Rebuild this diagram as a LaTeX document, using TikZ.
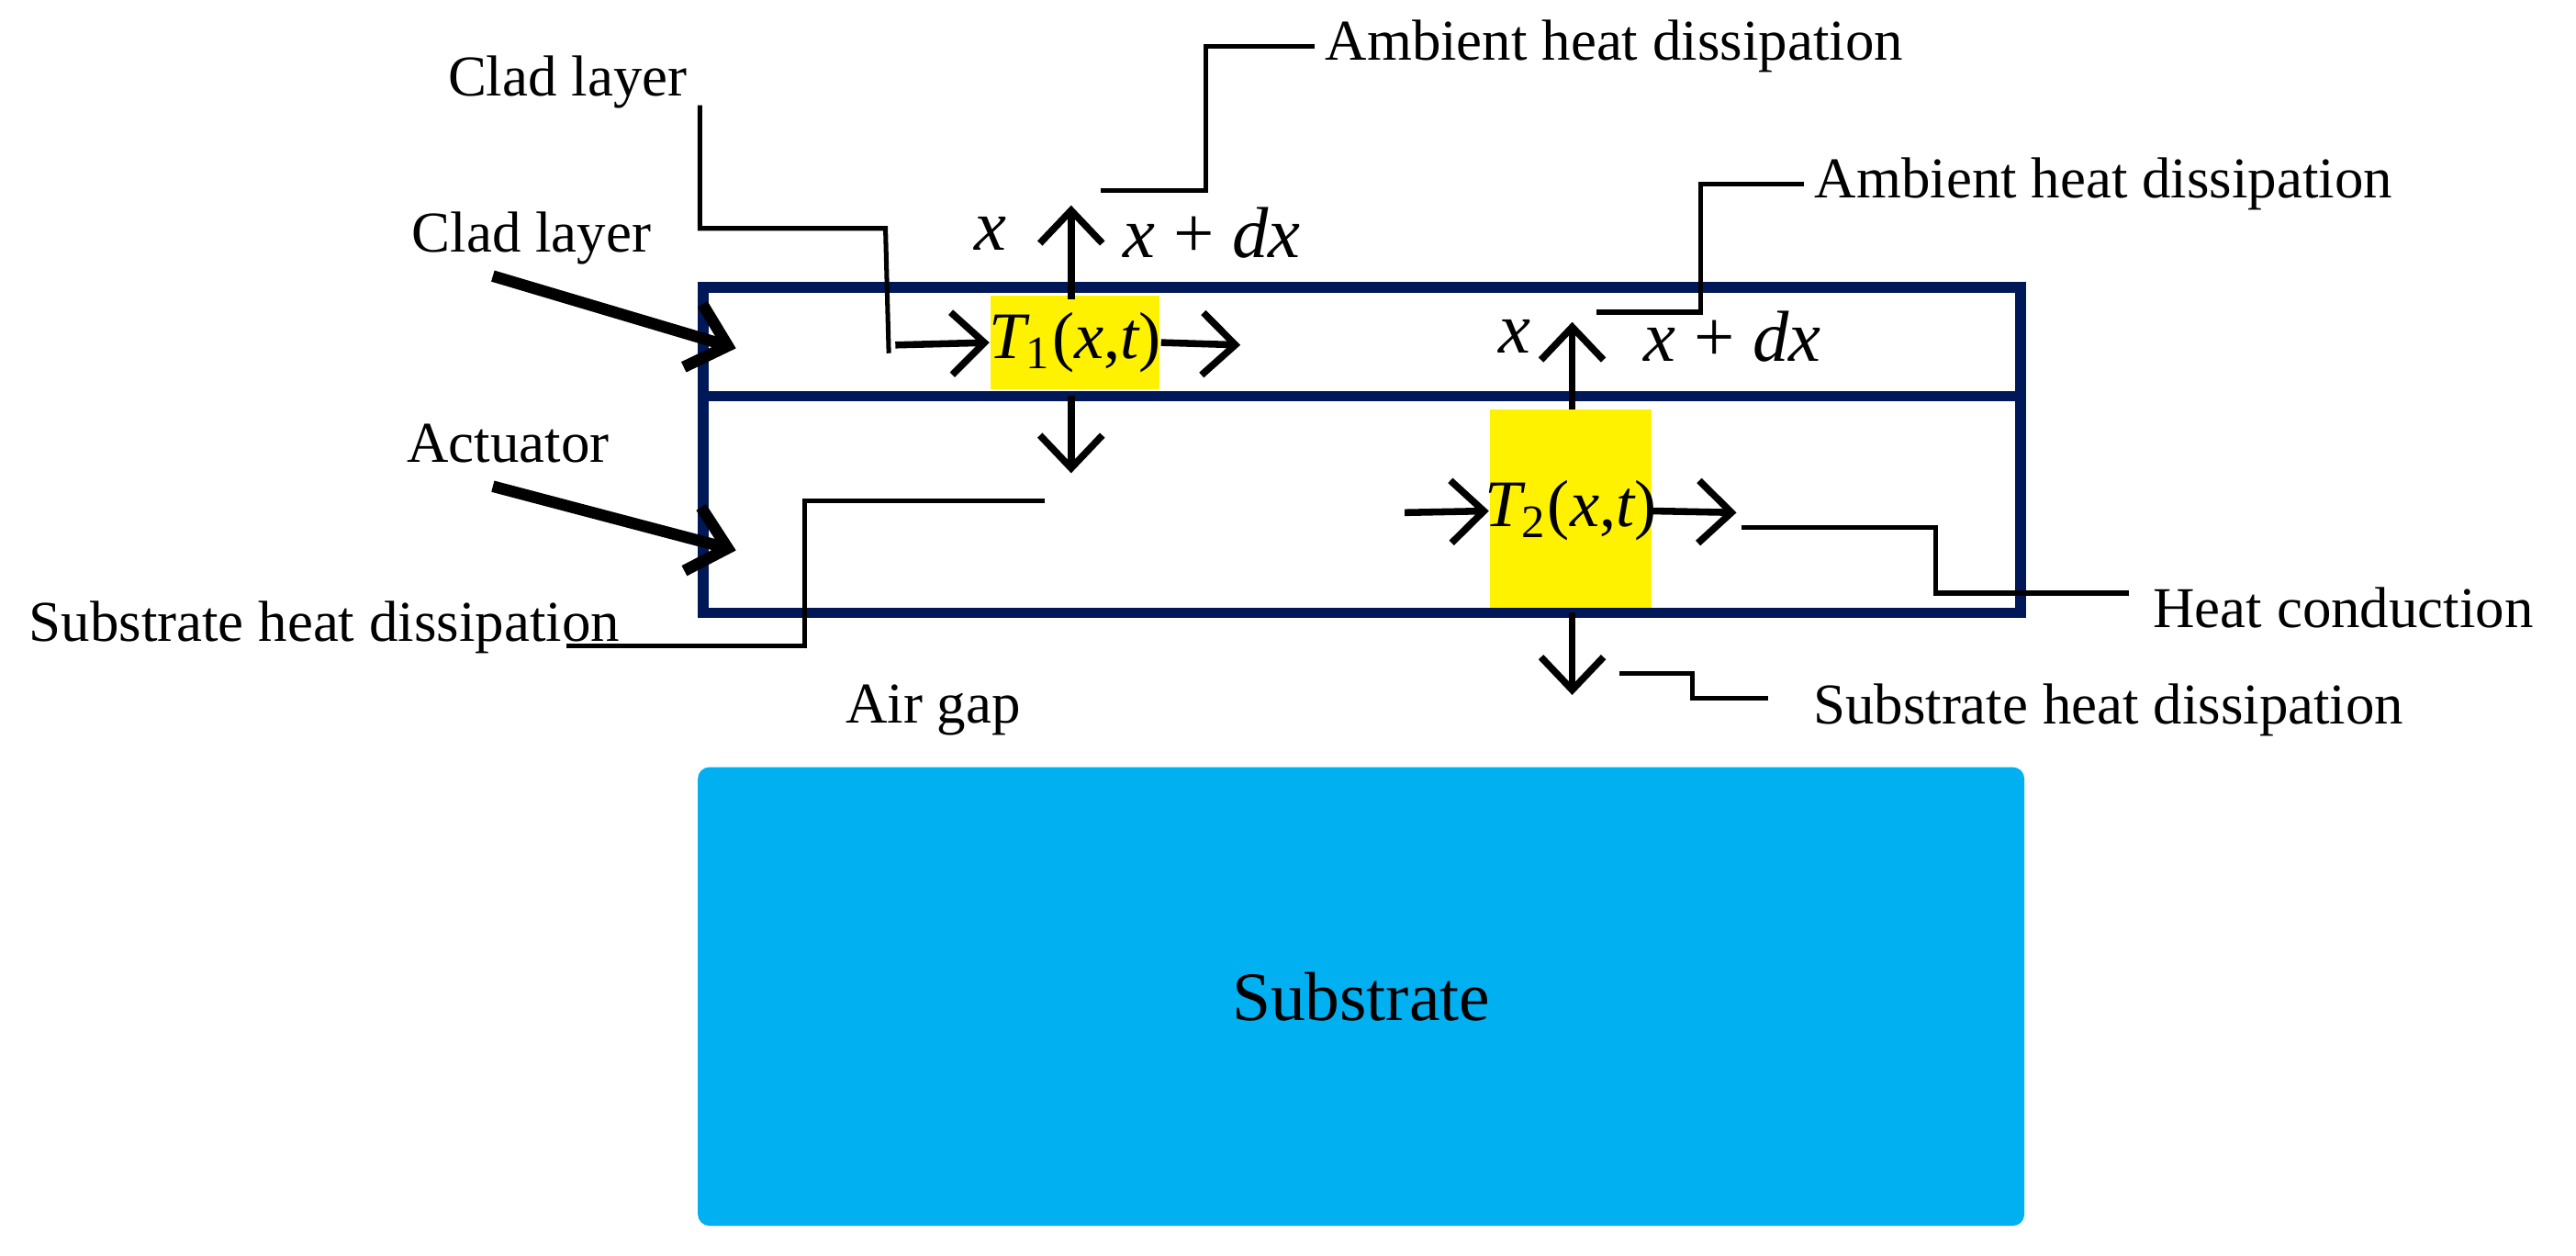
\documentclass[tikz,border=0pt]{standalone}
\usepackage{fontspec}
\setmainfont{Liberation Serif}
\usetikzlibrary{arrows.meta}
\definecolor{navy}{RGB}{0,24,88}
\definecolor{subst}{RGB}{0,176,240}
\begin{document}
\begin{tikzpicture}[x=0.01cm,y=-0.01cm,
 lbl/.style={font=\fontsize{10}{12}\selectfont,inner sep=0pt},
 mth/.style={font=\fontsize{12.5}{14}\selectfont\itshape,inner sep=0pt},
 tt/.style={font=\fontsize{11.5}{14}\selectfont\itshape,inner sep=0pt},
 ar/.style={line width=1.2pt,-{Straight Barb[length=0.2cm,width=0.38cm,line width=1.2pt]}},
 bar/.style={line width=2pt,-{Straight Barb[length=0.22cm,width=0.4cm,line width=2pt]}},
 ln/.style={line width=0.8pt}]
\useasboundingbox (0,0) rectangle (1568,764);
% substrate
\node[fill=subst,rounded corners=2pt,minimum width=8.07cm,minimum height=2.79cm,inner sep=0pt,font=\fontsize{12}{14}\selectfont] (sub) at (828.5,606.5) {Substrate};
% yellow boxes
\node[fill=yellow,minimum width=1.03cm,minimum height=0.57cm,inner sep=0pt] (t1) at (654.5,208.5) {};
\node[fill=yellow,minimum width=0.98cm,minimum height=1.24cm,inner sep=0pt] (t2) at (956,311) {};
% layers
\draw[navy,line width=1.8pt] (428,175) rectangle (1230,373);
\draw[navy,line width=1.8pt] (428,241) -- (1230,241);
\node[tt] at (t1) {T\textsubscript{\upshape 1}\upshape(\itshape x\upshape,\itshape t\upshape)};
\node[tt] at (t2) {T\textsubscript{\upshape 2}\upshape(\itshape x\upshape,\itshape t\upshape)};
% T1 arrows
\coordinate (a1) at (545,210); \coordinate (a2) at (755,210);
\coordinate (u1) at (652,125); \coordinate (d1) at (652,288);
\draw[ar] (a1) -- (t1.west);
\draw[ar] (t1.east) -- (a2);
\draw[ar] (652,182) -- (u1);
\draw[ar] (652,241) -- (d1);
\node[mth] at (603,142) {x};
\node[mth,anchor=west] at (683,142) {x \upshape+ \itshape dx};
% T2 arrows
\coordinate (b1) at (855,312); \coordinate (b2) at (1057,312);
\coordinate (u2) at (957,196); \coordinate (d2) at (957,423);
\draw[ar] (b1) -- (t2.west);
\draw[ar] (t2.east) -- (b2);
\draw[ar] (957,249) -- (u2);
\draw[ar] (957,373) -- (d2);
\node[mth] at (922,205) {x};
\node[mth,anchor=west] at (1000,205) {x \upshape+ \itshape dx};
% labels
\node[lbl,anchor=west] (cl1) at (272,50) {Clad layer};
\node[lbl,anchor=west] (cl2) at (250,145) {Clad layer};
\node[lbl,anchor=west] (act) at (247,270) {Actuator};
\node[lbl,anchor=west] (shl) at (17,382) {Substrate heat dissipation};
\node[lbl,anchor=west] (amb1) at (806,28) {Ambient heat dissipation};
\node[lbl,anchor=west] (amb2) at (1104,112) {Ambient heat dissipation};
\node[lbl,anchor=west] (hc) at (1310,370) {Heat conduction};
\node[lbl,anchor=west] (shr) at (1103,432) {Substrate heat dissipation};
\node[lbl,anchor=west] (air) at (514,432) {Air gap};
% leader lines
\coordinate (p1) at (541,215);
\draw[ln] (426,64) |- (539,139) -- (p1);
\draw[ln] (670,116) -- (734,116) -- (734,28) -- ([xshift=-0.06cm]amb1.west);
\draw[ln] (972,190) -- (1035,190) -- (1035,112) -- ([xshift=-0.06cm]amb2.west);
\draw[ln] (1060,321) -- (1178,321) |- (1296,361);
\draw[ln] (986,410) -- (1030,410) |- (1076,425);
\draw[ln] (345,393) -- (490,393) |- (636,305);
% pointer arrows
\draw[bar] (300,168) -- (448,212);
\draw[bar] (300,296) -- (448,335);
\end{tikzpicture}
\end{document}
